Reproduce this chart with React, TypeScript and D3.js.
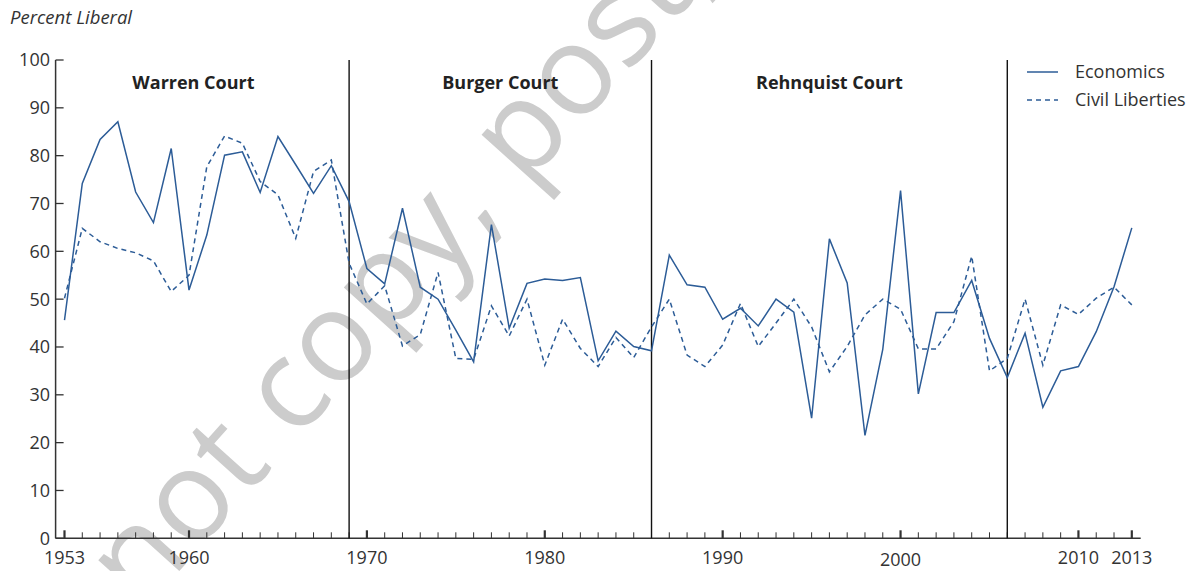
import React from 'react';
import * as d3 from 'd3';

const years = [1953,1954,1955,1956,1957,1958,1959,1960,1961,1962,1963,1964,1965,1966,1967,1968,1969,1970,1971,1972,1973,1974,1975,1976,1977,1978,1979,1980,1981,1982,1983,1984,1985,1986,1987,1988,1989,1990,1991,1992,1993,1994,1995,1996,1997,1998,1999,2000,2001,2002,2003,2004,2005,2006,2007,2008,2009,2010,2011,2012,2013];

const economics = [45.6,74.2,83.4,87.1,72.4,66.0,81.5,51.9,63.4,80.1,80.8,72.3,84.0,78.1,72.1,77.9,70.4,56.4,53.2,69.0,52.5,50.0,43.5,36.9,65.6,43.9,53.3,54.2,53.9,54.5,37.1,43.3,40.1,39.2,59.2,53.0,52.5,45.8,48.1,44.4,50.0,47.3,25.1,62.6,53.4,21.5,39.5,72.7,30.2,47.2,47.2,53.9,41.8,33.6,42.9,27.4,35.0,35.9,43.2,52.6,64.9];

const civilLiberties = [50.2,64.8,62.0,60.6,59.7,58.0,51.6,55.0,77.7,84.1,82.6,74.6,71.8,62.7,76.7,79.1,57.5,49.0,52.8,40.2,42.6,55.6,37.6,37.4,48.6,42.3,50.0,36.2,45.8,39.7,35.9,42.0,37.8,44.2,50.0,38.3,35.9,40.4,49.1,40.1,45.0,50.0,44.2,34.8,40.1,46.7,50.0,47.9,39.6,39.6,45.3,59.0,35.0,37.6,50.0,36.2,48.8,46.8,50.2,52.5,48.8];

const yTicks = [0,10,20,30,40,50,60,70,80,90,100];
const xLabelYears = [1953,1960,1970,1980,1990,2000,2010,2013];
const courtBreaks = [1969,1986,2006];
const courtNames = ['Warren Court','Burger Court','Rehnquist Court'];
const courtLabelYears = [1960.25,1977.5,1996];
const seriesNames = ['Economics','Civil Liberties'];

const BLUE = '#2c5c97';
const AXIS = '#333333';
const FONT = '"Open Sans", "Noto Sans", sans-serif';

export default function App() {
  const W = 1196, H = 571;
  const x = d3.scaleLinear().domain([1952.5, 2013.5]).range([55.6, 1140.7]);
  const y = d3.scaleLinear().domain([0, 100]).range([538.3, 60]);
  const line = d3.line<number>().x((_, i) => x(years[i])).y(d => y(d));
  const x0 = x(1952.5), x1 = x(2013.5), yb = y(0), yt = y(100);

  return (
    <svg width={W} height={H} style={{ position: 'absolute', left: 0, top: 0, background: '#fff' }} fontFamily={FONT}>
      <rect x={0} y={0} width={W} height={H} fill="#fff" />
      {/* watermark */}
      <text x={405} y={270} transform="rotate(-48 405 270)" textAnchor="middle" dominantBaseline="middle"
        fontSize={126} fill="#cccccc" fontFamily={FONT}>not copy, post,</text>

      <text x={10} y={24} fontSize={18.5} fontStyle="italic" fill={AXIS}>Percent Liberal</text>

      {/* y axis */}
      <line x1={x0} x2={x0} y1={yt} y2={yb} stroke={AXIS} strokeWidth={1.5} />
      {yTicks.map(t => (
        <g key={t}>
          <line x1={x0} x2={x0 + 8} y1={y(t)} y2={y(t)} stroke={AXIS} strokeWidth={1.3} />
          <text x={50} y={y(t)} dy="0.36em" textAnchor="end" fontSize={18} fill={AXIS}>{t}</text>
        </g>
      ))}

      {/* x axis */}
      <line x1={x0} x2={x1} y1={yb} y2={yb} stroke={AXIS} strokeWidth={1.5} />
      {years.map(yr => {
        const major = xLabelYears.includes(yr);
        return <line key={yr} x1={x(yr)} x2={x(yr)} y1={yb} y2={yb - (major ? 8 : 6)} stroke={AXIS} strokeWidth={major ? 2.2 : 1} />;
      })}
      {xLabelYears.map(yr => (
        <text key={yr} x={x(yr)} y={yr === 2000 ? 566 : 564} textAnchor="middle" fontSize={18} fill={AXIS}>{yr}</text>
      ))}

      {/* court dividers */}
      {courtBreaks.map(b => (
        <line key={b} x1={x(b)} x2={x(b)} y1={yt} y2={yb} stroke="#111" strokeWidth={1.4} />
      ))}
      {courtNames.map((n, i) => (
        <text key={n} x={x(courtLabelYears[i])} y={89} textAnchor="middle" fontSize={18} fontWeight="bold" fill="#222">{n}</text>
      ))}

      {/* series */}
      <path d={line(civilLiberties) || ''} fill="none" stroke={BLUE} strokeWidth={1.5} strokeDasharray="5,4" />
      <path d={line(economics) || ''} fill="none" stroke={BLUE} strokeWidth={1.5} />

      {/* legend */}
      <line x1={1027} x2={1058} y1={72} y2={72} stroke={BLUE} strokeWidth={1.5} />
      <text x={1075} y={78} fontSize={18} fill={AXIS}>{seriesNames[0]}</text>
      <line x1={1027} x2={1058} y1={100} y2={100} stroke={BLUE} strokeWidth={1.5} strokeDasharray="5,4" />
      <text x={1075} y={106} fontSize={18} fill={AXIS}>{seriesNames[1]}</text>
    </svg>
  );
}
